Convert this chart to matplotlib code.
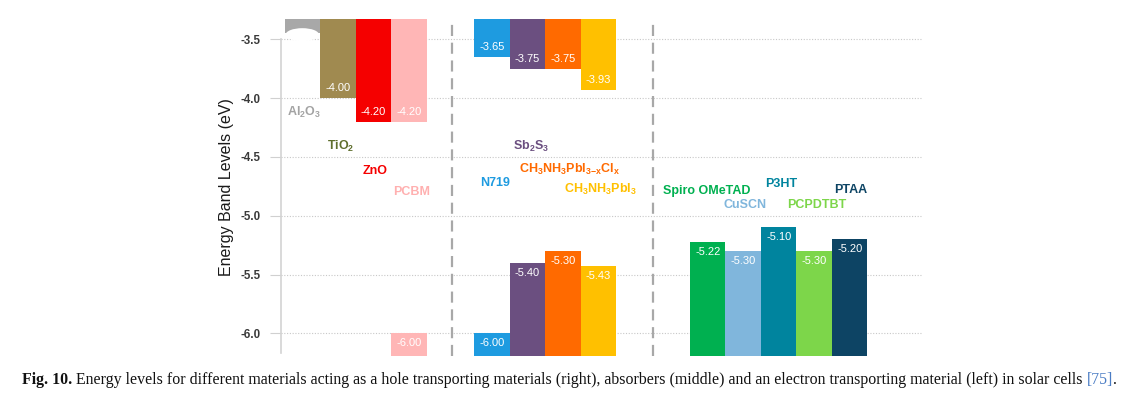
import numpy as np
import matplotlib
matplotlib.use("Agg")
import matplotlib.pyplot as plt
from matplotlib.patches import Ellipse

plt.rcParams['font.family'] = ['Liberation Sans', 'DejaVu Sans']
plt.rcParams['axes.unicode_minus'] = False
plt.rcParams['mathtext.fontset'] = 'custom'
plt.rcParams['mathtext.rm'] = 'Liberation Sans:bold'
plt.rcParams['mathtext.it'] = 'Liberation Sans:bold'
plt.rcParams['mathtext.bf'] = 'Liberation Sans:bold'
plt.rcParams['mathtext.default'] = 'rm'

# ---------------- data ----------------
etm_names = [r'Al$_2$O$_3$', r'TiO$_2$', 'ZnO', 'PCBM']
etm_lumo = [-3.45, -4.00, -4.20, -4.20]
etm_homo = [np.nan, np.nan, np.nan, -6.00]
etm_colors = ['#a8a8a8', '#a08a50', '#f50000', '#ffb6b6']
etm_text_colors = ['#a3a3a3', '#5e6e2c', '#f50000', '#ffb0b0']

abs_names = ['N719', r'Sb$_2$S$_3$', r'CH$_3$NH$_3$PbI$_{3\mathregular{-x}}$Cl$_x$', r'CH$_3$NH$_3$PbI$_3$']
abs_lumo = [-3.65, -3.75, -3.75, -3.93]
abs_homo = [-6.00, -5.40, -5.30, -5.43]
abs_colors = ['#1e9be0', '#6b4f80', '#ff6a00', '#ffc000']
abs_text_colors = abs_colors

htm_names = ['Spiro OMeTAD', 'CuSCN', 'P3HT', 'PCPDTBT', 'PTAA']
htm_lumo = [np.nan] * 5
htm_homo = [-5.22, -5.30, -5.10, -5.30, -5.20]
htm_colors = ['#00b050', '#80b6dc', '#00849e', '#7dd64a', '#0d4464']
htm_text_colors = htm_colors

yticks = [-3.5, -4.0, -4.5, -5.0, -5.5, -6.0]
ylabel = 'Energy Band Levels (eV)'
caption_bold = 'Fig. 10.'
caption_text = (' Energy levels for different materials acting as a hole transporting materials (right), '
                'absorbers (middle) and an electron transporting material (left) in solar cells ')
caption_ref = '[75]'

# ---------------- layout ----------------
group_start = [0.0, 5.34, 11.42]
separators = [4.21, 9.87]
# label centre (x offset from bar centre, y position in eV)
label_pos = [
    [(0.05, -4.12), (0.08, -4.41), (0.06, -4.62), (0.08, -4.80)],
    [(0.09, -4.72), (0.10, -4.41), (0.20, -4.61), (0.07, -4.78)],
    [(-0.03, -4.79), (0.05, -4.91), (0.06, -4.73), (0.08, -4.91), (0.04, -4.78)],
]

fig = plt.figure(figsize=(11.27, 3.97), dpi=100)
ax = fig.add_axes([281/1127, 1-356/397, 641/1127, 337/397])
ax.set_xlim(-0.6, -0.6 + 641/35.5)
ytop, ybot = -3.327, -6.193
ax.set_ylim(ybot, ytop)

groups = [
    (etm_names, etm_lumo, etm_homo, etm_colors, etm_text_colors),
    (abs_names, abs_lumo, abs_homo, abs_colors, abs_text_colors),
    (htm_names, htm_lumo, htm_homo, htm_colors, htm_text_colors),
]

val_fs = 8
for gi, (names, lumo, homo, cols, tcols) in enumerate(groups):
    xs = group_start[gi] + np.arange(len(names))
    for i, x in enumerate(xs):
        lv, hv = lumo[i], homo[i]
        if not np.isnan(lv):
            ax.bar(x, -3.0 - lv, bottom=lv, width=1.0, color=cols[i], linewidth=0, zorder=2)
            if gi != 0 or i != 0:
                ax.text(x, lv + 0.085, f'{lv:.2f}', color='white', fontsize=val_fs,
                        ha='center', va='center', zorder=3)
        if not np.isnan(hv):
            ax.bar(x, hv - (-6.6), bottom=-6.6, width=1.0, color=cols[i], linewidth=0, zorder=2)
            ax.text(x, hv - 0.085, f'{hv:.2f}', color='white', fontsize=val_fs,
                    ha='center', va='center', zorder=3)
        dx, ly = label_pos[gi][i]
        ax.text(x + dx, ly, names[i], color=tcols[i], fontsize=9, fontweight='bold',
                ha='center', va='center', zorder=3)

# Al2O3 curved bottom cut
ax.add_patch(Ellipse((0.0, -3.46), 0.94, 0.11, facecolor='white', edgecolor='none', zorder=2.5))

for s in separators:
    ax.axvline(s, color='#a8a8a8', linestyle=(0, (5, 3)), linewidth=1.6, zorder=1)

ax.set_yticks(yticks)
ax.set_yticklabels([f'{t:.1f}' for t in yticks], fontsize=8.3, fontweight='bold', color='#3a3a3a')
ax.tick_params(axis='y', length=8, width=0.8, color='#d0d0d0', pad=7)
ax.tick_params(axis='x', bottom=False, labelbottom=False)
ax.grid(axis='y', linestyle=(0, (1, 1.5)), color='#c8c8c8', linewidth=0.8, zorder=0)
for sp in ['top', 'right', 'bottom']:
    ax.spines[sp].set_visible(False)
ax.spines['left'].set_color('#d3d3d3')
ax.spines['left'].set_linewidth(1.2)
ax.spines['left'].set_bounds(-6.17, -3.5)
ax.set_ylabel(ylabel, fontsize=11.5, color='#1a1a1a', labelpad=4)
ax.set_axisbelow(True)

# caption
fig.canvas.draw()
r = fig.canvas.get_renderer()
cy = 1 - 380/397
cap_fs = 11.45
serif = ['Liberation Serif', 'DejaVu Serif']
t1 = fig.text(22/1127, cy, caption_bold, fontsize=cap_fs, fontweight='bold', family=serif,
              va='center', ha='left', color='#111111')
x = t1.get_window_extent(r).x1 / fig.bbox.width
t2 = fig.text(x, cy, caption_text, fontsize=cap_fs, family=serif, va='center', ha='left', color='#111111')
x = t2.get_window_extent(r).x1 / fig.bbox.width
t3 = fig.text(x, cy, caption_ref, fontsize=cap_fs, family=serif, va='center', ha='left', color='#4a7cc4')
x = t3.get_window_extent(r).x1 / fig.bbox.width
fig.text(x, cy, '.', fontsize=cap_fs, family=serif, va='center', ha='left', color='#111111')

fig.savefig('out.png', dpi=100)
